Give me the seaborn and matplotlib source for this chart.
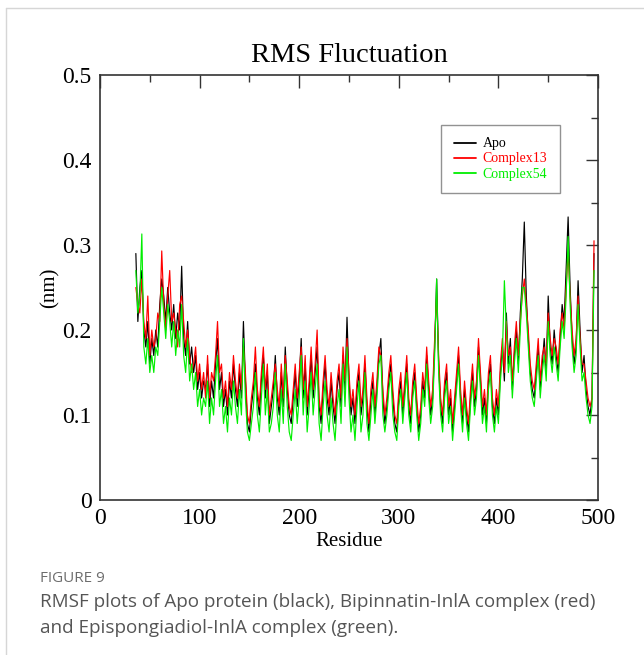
import numpy as np
import pandas as pd
import matplotlib
matplotlib.use("Agg")
import matplotlib.pyplot as plt
import seaborn as sns
from matplotlib.ticker import MultipleLocator
from matplotlib.lines import Line2D

residues = list(range(36, 497, 2))

apo = [0.29, 0.21, 0.25, 0.27, 0.20, 0.18, 0.21, 0.16, 0.19, 0.17,
       0.20, 0.18, 0.23, 0.26, 0.24, 0.21, 0.25, 0.22, 0.20, 0.23,
       0.19, 0.22, 0.20, 0.275, 0.19, 0.17, 0.21, 0.16, 0.18, 0.15,
       0.17, 0.13, 0.15, 0.12, 0.14, 0.13, 0.16, 0.11, 0.14, 0.12,
       0.16, 0.19, 0.13, 0.15, 0.11, 0.13, 0.10, 0.14, 0.12, 0.16,
       0.13, 0.11, 0.15, 0.12, 0.21, 0.14, 0.09, 0.08, 0.11, 0.13,
       0.16, 0.12, 0.10, 0.14, 0.17, 0.12, 0.15, 0.09, 0.11, 0.13,
       0.17, 0.12, 0.10, 0.15, 0.11, 0.18, 0.13, 0.10, 0.09, 0.12,
       0.15, 0.11, 0.14, 0.19, 0.12, 0.16, 0.10, 0.13, 0.17, 0.12,
       0.15, 0.18, 0.11, 0.09, 0.13, 0.16, 0.12, 0.10, 0.14, 0.11,
       0.09, 0.13, 0.15, 0.11, 0.17, 0.13, 0.215, 0.14, 0.10, 0.12,
       0.09, 0.13, 0.15, 0.10, 0.12, 0.16, 0.11, 0.08, 0.12, 0.14,
       0.10, 0.13, 0.17, 0.19, 0.12, 0.09, 0.11, 0.14, 0.16, 0.12,
       0.09, 0.08, 0.12, 0.14, 0.10, 0.13, 0.16, 0.11, 0.09, 0.13,
       0.15, 0.11, 0.08, 0.10, 0.14, 0.12, 0.17, 0.13, 0.10, 0.12,
       0.18, 0.26, 0.16, 0.11, 0.09, 0.13, 0.15, 0.10, 0.12, 0.08,
       0.11, 0.14, 0.17, 0.12, 0.09, 0.13, 0.10, 0.08, 0.12, 0.15,
       0.11, 0.13, 0.18, 0.14, 0.10, 0.12, 0.09, 0.14, 0.16, 0.11,
       0.09, 0.12, 0.10, 0.15, 0.18, 0.14, 0.22, 0.16, 0.19, 0.13,
       0.17, 0.20, 0.16, 0.22, 0.26, 0.327, 0.24, 0.19, 0.15, 0.13,
       0.12, 0.15, 0.18, 0.13, 0.16, 0.19, 0.15, 0.24, 0.18, 0.16,
       0.20, 0.17, 0.15, 0.19, 0.23, 0.21, 0.27, 0.333, 0.25, 0.19,
       0.16, 0.18, 0.258, 0.20, 0.15, 0.17, 0.13, 0.11, 0.10, 0.12,
       0.29]

complex13 = [0.25, 0.23, 0.22, 0.26, 0.21, 0.19, 0.24, 0.17, 0.20, 0.18,
             0.19, 0.22, 0.21, 0.293, 0.23, 0.20, 0.24, 0.27, 0.21, 0.22,
             0.20, 0.18, 0.23, 0.24, 0.21, 0.18, 0.20, 0.17, 0.15, 0.16,
             0.18, 0.14, 0.16, 0.13, 0.15, 0.12, 0.17, 0.12, 0.15, 0.14,
             0.17, 0.21, 0.15, 0.16, 0.12, 0.14, 0.11, 0.15, 0.13, 0.17,
             0.14, 0.12, 0.16, 0.13, 0.18, 0.15, 0.10, 0.09, 0.12, 0.14,
             0.18, 0.13, 0.11, 0.15, 0.18, 0.13, 0.16, 0.10, 0.12, 0.14,
             0.16, 0.13, 0.11, 0.16, 0.12, 0.17, 0.14, 0.11, 0.10, 0.13,
             0.16, 0.12, 0.15, 0.18, 0.13, 0.17, 0.11, 0.14, 0.18, 0.13,
             0.16, 0.20, 0.12, 0.10, 0.14, 0.17, 0.13, 0.11, 0.15, 0.12,
             0.10, 0.14, 0.16, 0.12, 0.18, 0.14, 0.19, 0.15, 0.11, 0.13,
             0.10, 0.14, 0.16, 0.11, 0.13, 0.17, 0.12, 0.09, 0.13, 0.15,
             0.11, 0.14, 0.18, 0.17, 0.13, 0.10, 0.12, 0.15, 0.17, 0.13,
             0.10, 0.09, 0.13, 0.15, 0.11, 0.14, 0.17, 0.12, 0.10, 0.14,
             0.16, 0.12, 0.09, 0.11, 0.15, 0.13, 0.18, 0.14, 0.11, 0.13,
             0.19, 0.24, 0.17, 0.12, 0.10, 0.14, 0.16, 0.11, 0.13, 0.09,
             0.12, 0.15, 0.18, 0.13, 0.10, 0.14, 0.11, 0.09, 0.13, 0.16,
             0.12, 0.14, 0.19, 0.15, 0.11, 0.13, 0.10, 0.15, 0.17, 0.12,
             0.10, 0.13, 0.11, 0.16, 0.19, 0.15, 0.21, 0.17, 0.18, 0.14,
             0.18, 0.21, 0.17, 0.21, 0.24, 0.26, 0.23, 0.20, 0.16, 0.14,
             0.13, 0.16, 0.19, 0.14, 0.17, 0.18, 0.16, 0.22, 0.19, 0.17,
             0.19, 0.18, 0.16, 0.20, 0.22, 0.20, 0.25, 0.29, 0.24, 0.20,
             0.17, 0.19, 0.24, 0.19, 0.16, 0.16, 0.14, 0.12, 0.11, 0.12,
             0.305]

complex54 = [0.27, 0.22, 0.24, 0.313, 0.18, 0.16, 0.19, 0.15, 0.17, 0.15,
             0.18, 0.17, 0.21, 0.25, 0.22, 0.19, 0.23, 0.21, 0.18, 0.21,
             0.17, 0.20, 0.18, 0.23, 0.17, 0.15, 0.19, 0.14, 0.16, 0.13,
             0.15, 0.11, 0.13, 0.10, 0.12, 0.11, 0.14, 0.09, 0.12, 0.10,
             0.14, 0.17, 0.11, 0.13, 0.09, 0.11, 0.08, 0.12, 0.10, 0.14,
             0.11, 0.09, 0.13, 0.10, 0.19, 0.12, 0.08, 0.07, 0.09, 0.11,
             0.15, 0.10, 0.08, 0.12, 0.16, 0.10, 0.13, 0.08, 0.09, 0.11,
             0.15, 0.10, 0.08, 0.13, 0.09, 0.16, 0.11, 0.08, 0.07, 0.10,
             0.13, 0.09, 0.12, 0.17, 0.10, 0.14, 0.08, 0.11, 0.15, 0.10,
             0.13, 0.16, 0.09, 0.07, 0.11, 0.14, 0.10, 0.08, 0.12, 0.09,
             0.07, 0.11, 0.13, 0.09, 0.16, 0.11, 0.18, 0.12, 0.08, 0.10,
             0.07, 0.11, 0.14, 0.08, 0.10, 0.15, 0.09, 0.07, 0.10, 0.13,
             0.09, 0.12, 0.16, 0.17, 0.10, 0.08, 0.10, 0.13, 0.15, 0.10,
             0.08, 0.07, 0.11, 0.13, 0.09, 0.12, 0.15, 0.10, 0.08, 0.12,
             0.14, 0.10, 0.07, 0.09, 0.13, 0.11, 0.16, 0.12, 0.09, 0.11,
             0.17, 0.26, 0.15, 0.10, 0.08, 0.12, 0.14, 0.09, 0.11, 0.07,
             0.10, 0.13, 0.16, 0.11, 0.08, 0.12, 0.09, 0.07, 0.11, 0.14,
             0.10, 0.12, 0.17, 0.13, 0.09, 0.11, 0.08, 0.13, 0.15, 0.10,
             0.08, 0.11, 0.09, 0.14, 0.17, 0.258, 0.20, 0.15, 0.17, 0.12,
             0.16, 0.19, 0.15, 0.20, 0.25, 0.25, 0.22, 0.18, 0.14, 0.12,
             0.11, 0.14, 0.17, 0.12, 0.15, 0.17, 0.14, 0.21, 0.17, 0.15,
             0.18, 0.16, 0.14, 0.18, 0.21, 0.19, 0.24, 0.31, 0.23, 0.18,
             0.15, 0.17, 0.23, 0.18, 0.14, 0.15, 0.12, 0.10, 0.09, 0.11,
             0.27]

series_names = ["Apo", "Complex13", "Complex54"]
series_colors = ["#000000", "#ff0000", "#00ee00"]
x_ticks = [0, 100, 200, 300, 400, 500]
y_ticks = [0, 0.1, 0.2, 0.3, 0.4, 0.5]
y_tick_labels = ["0", "0.1", "0.2", "0.3", "0.4", "0.5"]

df = pd.concat([
    pd.DataFrame({"Residue": residues, "RMSF": vals, "Series": name})
    for name, vals in zip(series_names, [apo, complex13, complex54])
], ignore_index=True)

sns.set_theme(style="white")
plt.rcParams["font.family"] = ["Liberation Serif", "DejaVu Serif"]

fig = plt.figure(figsize=(6.44, 6.55), dpi=100)
ax = fig.add_axes([100 / 644, 1 - 500 / 655, 498 / 644, 425 / 655])

sns.lineplot(data=df, x="Residue", y="RMSF", hue="Series",
             hue_order=series_names, palette=series_colors,
             linewidth=0.85, ax=ax, legend=False, estimator=None)

ax.set_xlim(0, 500)
ax.set_ylim(0, 0.5)
ax.set_xticks(x_ticks)
ax.set_xticklabels([str(t) for t in x_ticks])
ax.set_yticks(y_ticks)
ax.set_yticklabels(y_tick_labels)
ax.xaxis.set_minor_locator(MultipleLocator(50))
ax.yaxis.set_minor_locator(MultipleLocator(0.05))
ax.tick_params(which="major", direction="in", length=9, width=1.0,
               color="#333333", top=True, right=True, labelsize=17, pad=6,
               labelcolor="black")
ax.tick_params(which="minor", direction="in", length=5, width=1.0,
               color="#333333", top=True, right=True)
for sp in ax.spines.values():
    sp.set_color("#333333")
    sp.set_linewidth(1.2)
    sp.set_visible(True)

ax.set_xlabel("Residue", fontsize=15, labelpad=2, color="black")
ax.set_ylabel("(nm)", fontsize=15, labelpad=2, color="black")
ax.set_title("RMS Fluctuation", fontsize=20.5, pad=9, color="black")

handles = [Line2D([0], [0], color=c, lw=1.3) for c in series_colors]
leg = ax.legend(handles, series_names, loc="upper left",
                bbox_to_anchor=(0.671, 0.899), frameon=True, fancybox=False,
                fontsize=10, handlelength=1.6, handletextpad=0.5,
                borderpad=0.9, labelspacing=0.15,
                labelcolor=series_colors)
leg.get_frame().set_edgecolor("#777777")
leg.get_frame().set_linewidth(1.0)

# card frame lines
fig.add_artist(Line2D([6 / 644, 1.0], [1 - 8 / 655, 1 - 8 / 655],
                      color="#d6d6d6", lw=1.0, transform=fig.transFigure))
fig.add_artist(Line2D([6 / 644, 6 / 644], [0, 1 - 8 / 655],
                      color="#d6d6d6", lw=1.0, transform=fig.transFigure))

cap_font = ["Open Sans", "DejaVu Sans"]
fig.text(40 / 644, 1 - 578 / 655, "FIGURE 9", fontsize=11,
         color="#6d6d6d", family=cap_font, va="center")
fig.text(40 / 644, 1 - 602 / 655,
         "RMSF plots of Apo protein (black), Bipinnatin-InlA complex (red)",
         fontsize=13.6, color="#555555", family=cap_font, va="center")
fig.text(40 / 644, 1 - 628 / 655,
         "and Epispongiadiol-InlA complex (green).",
         fontsize=13.6, color="#555555", family=cap_font, va="center")

fig.savefig("out.png", dpi=100, facecolor="white")
